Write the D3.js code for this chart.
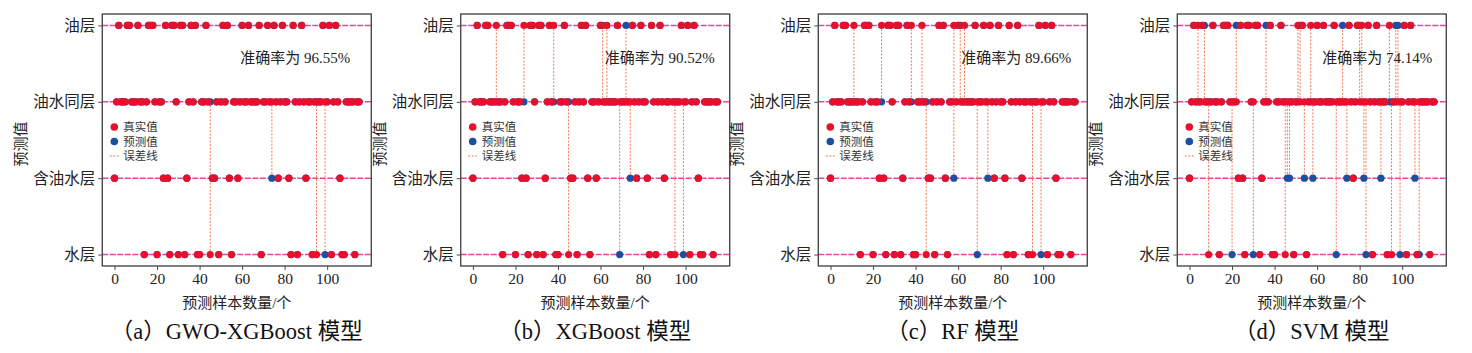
<!DOCTYPE html>
<html>
<head>
<meta charset="utf-8">
<script src="https://d3js.org/d3.v7.min.js"></script>
<style>
  body { margin: 0; background: #fff; }
  svg { display: block; }
</style>
</head>
<body>
<div id="chart"></div>
<script>
var width = 1472;
var height = 353;

// class levels, bottom to top
var levelNames = ["水层", "含油水层", "油水同层", "油层"];
var xTicks = [0, 20, 40, 60, 80, 100];

// true class of each test sample (0..115)
var trueLabels = [
  1,2,3,2,2,2,3,3,2,2,
  2,3,2,2,0,2,3,3,3,2,
  0,2,2,1,3,1,0,3,3,2,
  0,3,3,0,1,2,3,2,3,0,
  0,2,2,3,2,0,1,1,2,0,
  2,3,2,3,1,0,2,2,1,2,
  3,2,2,3,2,2,2,2,3,0,
  2,2,3,2,2,3,2,1,2,3,
  2,2,1,0,3,2,0,2,3,2,
  1,2,2,0,2,0,2,2,3,2,
  2,3,0,2,3,2,1,0,0,2,
  2,2,2,0,2,2
];

// misclassified samples per model: [sample, true level shown, predicted level]
var gwoErrors = [[45,0,2],[74,2,1],[95,0,2],[99,2,0]];
var xgbErrors = [[11,3,2],[24,3,2],[38,3,2],[45,0,2],[61,2,3],[63,3,2],[69,2,0],[72,2,3],[74,2,1],[95,0,2],[99,2,0]];
var rfErrors = [[11,3,2],[24,3,2],[38,3,2],[43,3,2],[45,0,2],[58,3,1],[61,2,3],[63,3,2],[69,2,0],[74,2,1],[95,0,2],[99,2,0]];
var svmErrors = [[4,3,2],[7,2,3],[9,0,2],[20,2,0],[22,2,3],[30,2,0],[36,2,3],[45,0,2],[46,2,1],[47,2,1],
  [51,3,2],[52,2,3],[54,2,1],[57,3,2],[58,2,1],[69,2,0],[72,2,3],[74,2,1],[80,2,3],[81,3,2],
  [82,2,1],[83,2,0],[90,2,1],[94,3,2],[95,0,2],[97,2,3],[98,2,3],[99,2,0],[106,2,1],[108,2,0]];

var accuracies = ["96.55%", "90.52%", "89.66%", "74.14%"];
var captions = ["（a）GWO-XGBoost 模型", "（b）XGBoost 模型", "（c）RF 模型", "（d）SVM 模型"];
var legendLabels = ["真实值", "预测值", "误差线"];
var allErrors = [gwoErrors, xgbErrors, rfErrors, svmErrors];

// layout
var axLeft = [102.3, 460.7, 818.3, 1177.3];
var accOffset = [138, 144, 143, 145];
var axWidth = 269;
var axTop = 14;
var axBottom = 266;

var red = "#e6102d";
var blue = "#1c4f9f";
var pink = "#e8479a";
var errColor = "#f36a3c";
var cjk = "'Noto Sans CJK SC', sans-serif";
var serif = "'Liberation Serif', 'Noto Sans CJK SC', serif";

var svg = d3.select("#chart").append("svg")
  .attr("width", width)
  .attr("height", height);

var y = d3.scaleLinear().domain([-0.15, 3.15]).range([axBottom, axTop]);

function drawPanel(p) {
  var left = axLeft[p];
  var x = d3.scaleLinear().domain([-5.75, 120.75]).range([left, left + axWidth]);

  // build true / predicted per sample for this panel
  var samples = trueLabels.map(function (t, i) {
    return { i: i, t: t, p: t };
  });
  allErrors[p].forEach(function (e) {
    samples[e[0]].t = e[1];
    samples[e[0]].p = e[2];
  });
  var wrong = samples.filter(function (d) { return d.t !== d.p; });

  var g = svg.append("g");

  // level guide lines
  g.selectAll(".level")
    .data(d3.range(levelNames.length))
    .enter().append("line")
    .attr("x1", left).attr("x2", left + axWidth)
    .attr("y1", function (d) { return y(d); })
    .attr("y2", function (d) { return y(d); })
    .attr("stroke", pink)
    .attr("stroke-width", 1.4)
    .attr("stroke-dasharray", "6,1.5");

  // error lines
  g.selectAll(".err")
    .data(wrong)
    .enter().append("line")
    .attr("x1", function (d) { return x(d.i); })
    .attr("x2", function (d) { return x(d.i); })
    .attr("y1", function (d) { return y(d.t); })
    .attr("y2", function (d) { return y(d.p); })
    .attr("stroke", errColor)
    .attr("stroke-width", 0.9)
    .attr("stroke-dasharray", "2,1.5");

  // predicted values
  g.selectAll(".pred")
    .data(samples)
    .enter().append("circle")
    .attr("cx", function (d) { return x(d.i); })
    .attr("cy", function (d) { return y(d.p); })
    .attr("r", 3.6)
    .attr("fill", blue);

  // true values on top
  g.selectAll(".true")
    .data(samples)
    .enter().append("circle")
    .attr("cx", function (d) { return x(d.i); })
    .attr("cy", function (d) { return y(d.t); })
    .attr("r", 3.6)
    .attr("fill", red);

  // frame
  g.append("rect")
    .attr("x", left).attr("y", axTop)
    .attr("width", axWidth).attr("height", axBottom - axTop)
    .attr("fill", "none")
    .attr("stroke", "#4a4a4a")
    .attr("stroke-width", 1.4);

  // axes
  var xAxis = g.append("g")
    .attr("transform", "translate(0," + axBottom + ")")
    .call(d3.axisBottom(x).tickValues(xTicks).tickSize(4).tickPadding(3));
  xAxis.select(".domain").remove();
  xAxis.selectAll("line").attr("stroke", "#4a4a4a");
  xAxis.selectAll("text")
    .attr("fill", "#222")
    .style("font-family", serif)
    .style("font-size", "15.5px");

  var yAxis = g.append("g")
    .attr("transform", "translate(" + left + ",0)")
    .call(d3.axisLeft(y).tickValues([0, 1, 2, 3])
      .tickFormat(function (d) { return levelNames[d]; })
      .tickSize(4).tickPadding(3));
  yAxis.select(".domain").remove();
  yAxis.selectAll("line").attr("stroke", "#4a4a4a");
  yAxis.selectAll("text")
    .attr("fill", "#222")
    .style("font-family", cjk)
    .style("font-size", "15.5px");

  // axis titles
  g.append("text")
    .attr("transform", "translate(" + (left - 76) + "," + 144 + ") rotate(-90)")
    .attr("text-anchor", "middle")
    .style("font-family", cjk)
    .style("font-size", "15px")
    .attr("fill", "#222")
    .text("预测值");

  g.append("text")
    .attr("x", left + axWidth / 2)
    .attr("y", 308)
    .attr("text-anchor", "middle")
    .style("font-family", serif)
    .style("font-size", "15px")
    .attr("fill", "#222")
    .text("预测样本数量/个");

  g.append("text")
    .attr("x", left + axWidth / 2)
    .attr("y", 339)
    .attr("text-anchor", "middle")
    .style("font-family", serif)
    .style("font-size", "22.5px")
    .attr("fill", "#111")
    .text(captions[p]);

  // accuracy
  g.append("text")
    .attr("x", left + accOffset[p])
    .attr("y", 63)
    .style("font-family", serif)
    .style("font-size", "15px")
    .attr("fill", "#222")
    .text("准确率为 " + accuracies[p]);

  // legend
  var lg = g.append("g").attr("transform", "translate(" + (left + 12) + ",127)");
  lg.append("circle").attr("cx", 0).attr("cy", 0).attr("r", 3.8).attr("fill", red);
  lg.append("circle").attr("cx", 0).attr("cy", 14.5).attr("r", 3.8).attr("fill", blue);
  lg.append("line").attr("x1", -4.5).attr("x2", 4.5).attr("y1", 29).attr("y2", 29)
    .attr("stroke", errColor).attr("stroke-width", 0.9).attr("stroke-dasharray", "2,1.5");
  lg.selectAll(".lt")
    .data(legendLabels)
    .enter().append("text")
    .attr("x", 9)
    .attr("y", function (d, i) { return i * 14.5 + 4; })
    .style("font-family", cjk)
    .style("font-size", "11.5px")
    .attr("fill", "#333")
    .text(function (d) { return d; });
}

for (var p = 0; p < 4; p++) {
  drawPanel(p);
}
</script>
</body>
</html>
